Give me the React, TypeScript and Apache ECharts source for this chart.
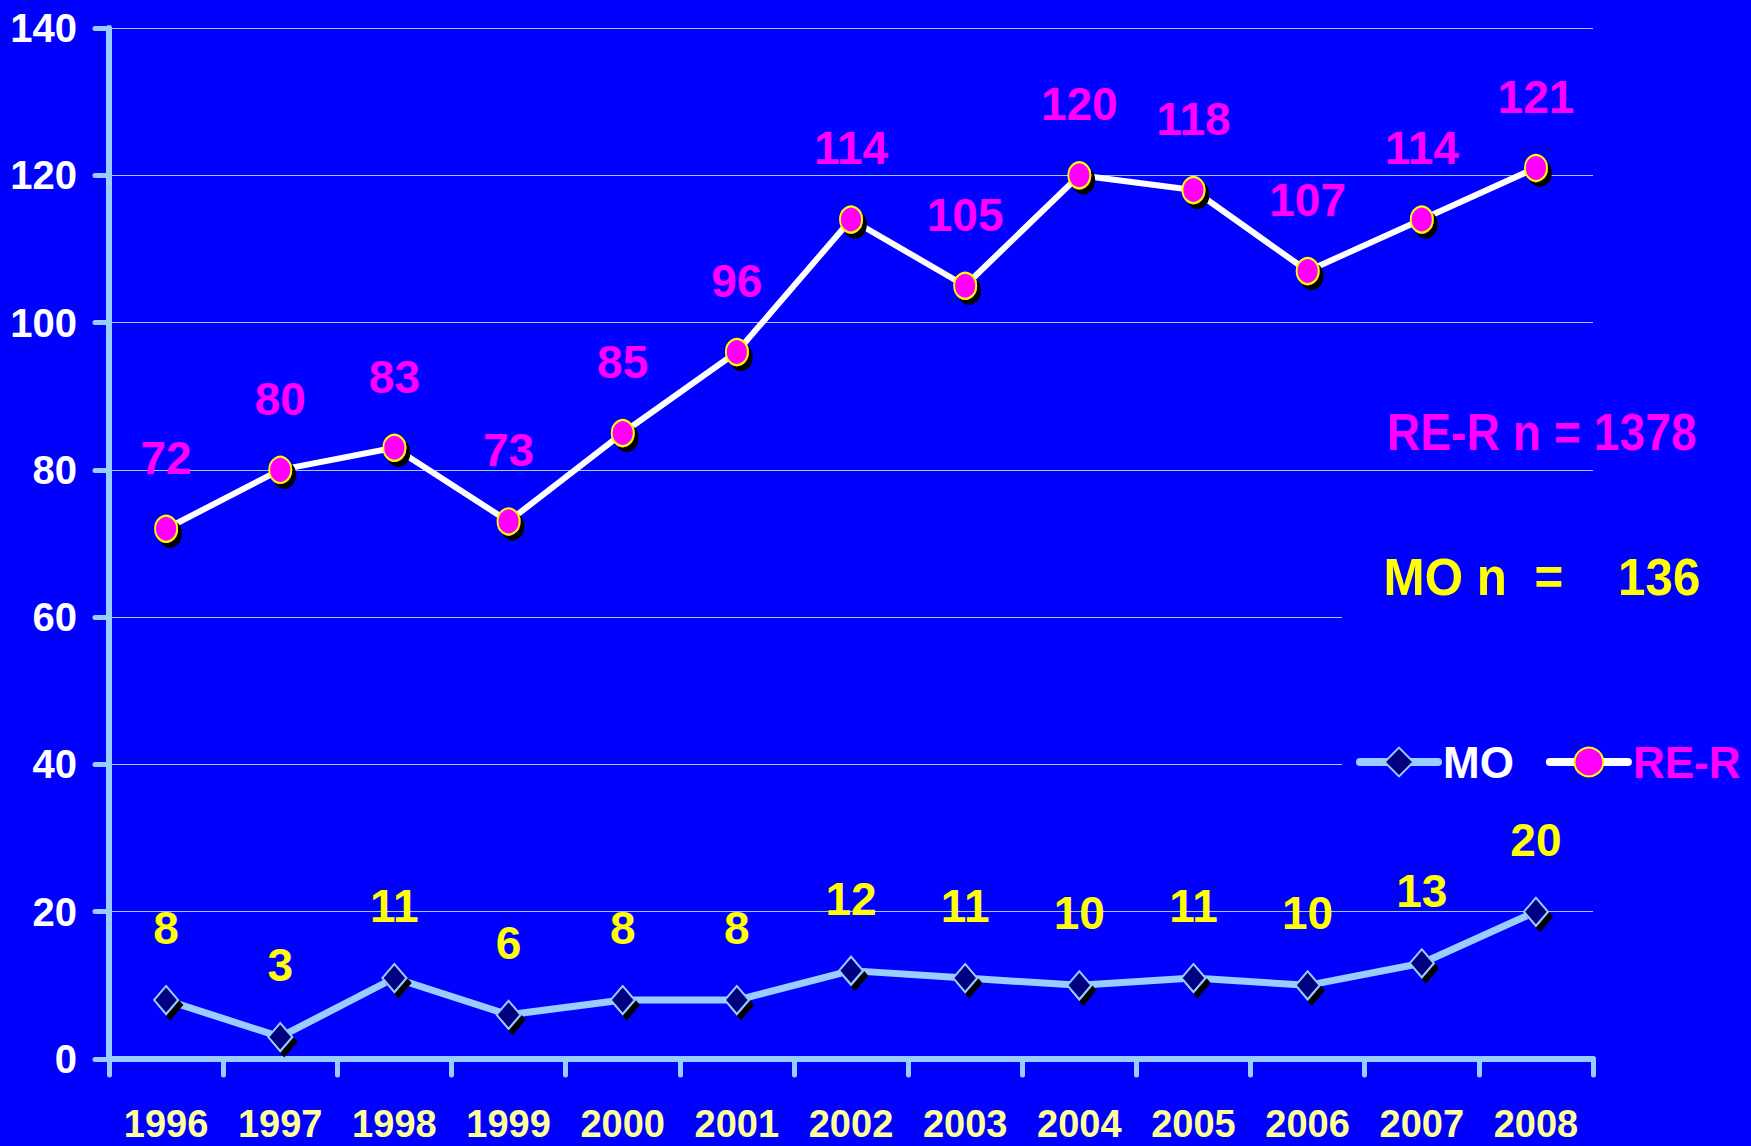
import React, { useEffect, useRef } from "react";
import * as echarts from "echarts";

const years = ["1996", "1997", "1998", "1999", "2000", "2001", "2002", "2003", "2004", "2005", "2006", "2007", "2008"];
const reR = [72, 80, 83, 73, 85, 96, 114, 105, 120, 118, 107, 114, 121];
const mo = [8, 3, 11, 6, 8, 8, 12, 11, 10, 11, 10, 13, 20];
const reRTotal = "RE-R n = 1378";
const moTotal = "MO n  =    136";

const FONT = "'Liberation Sans', Arial, sans-serif";
const BG = "#0000FF";
const AXIS = "#99CCFF";

export default function App() {
  const ref = useRef<HTMLDivElement>(null);
  useEffect(() => {
    document.body.style.margin = "0";
    document.body.style.background = BG;
    const chart = echarts.init(ref.current!, null, { renderer: "svg" });
    const noShadow = { shadowColor: "rgba(0,0,0,0)", shadowOffsetX: 0, shadowOffsetY: 0 };
    chart.setOption({
      animation: false,
      backgroundColor: BG,
      grid: { left: 109, right: 158, top: 28, bottom: 87 },
      legend: {
        left: 1356,
        top: 740,
        width: 395,
        padding: 0,
        itemWidth: 78,
        itemHeight: 36,
        itemGap: 32,
        textStyle: { fontSize: 44, fontWeight: "bold", fontFamily: FONT },
        data: [
          { name: "MO", textStyle: { color: "#FFFFFF" }, lineStyle: { width: 8, cap: "round", color: AXIS }, itemStyle: noShadow },
          { name: "RE-R", textStyle: { color: "#FF00FF" }, lineStyle: { width: 8, cap: "round", color: "#FFFFFF" }, itemStyle: noShadow },
        ],
      },
      xAxis: {
        type: "category",
        data: years,
        boundaryGap: true,
        axisLine: { lineStyle: { color: AXIS, width: 6, cap: "round" } },
        axisTick: { show: true, interval: 0, length: 16, inside: false, lineStyle: { color: AXIS, width: 5, cap: "round" } },
        axisLabel: { interval: 0, color: "#FFFF99", fontSize: 38, fontWeight: "bold", fontFamily: FONT, margin: 46 },
      },
      yAxis: {
        type: "value",
        min: 0,
        max: 140,
        interval: 20,
        axisLine: { show: true, lineStyle: { color: AXIS, width: 6, cap: "round" } },
        axisTick: { show: true, length: 14, lineStyle: { color: AXIS, width: 5, cap: "round" } },
        axisLabel: { color: "#FFFFFF", fontSize: 40, fontWeight: "bold", fontFamily: FONT, margin: 32 },
        splitLine: { show: true, lineStyle: { color: AXIS, width: 1 } },
      },
      graphic: [
        { type: "rect", z: 1, shape: { x: 1342, y: 490, width: 409, height: 330 }, style: { fill: BG } },
        {
          type: "text", z: 10, x: 1542, y: 432, scaleX: 0.89,
          style: { text: reRTotal, fill: "#FF00FF", fontSize: 52, fontWeight: "bold", fontFamily: FONT, align: "center", verticalAlign: "middle" },
        },
        {
          type: "text", z: 10, x: 1542, y: 577, scaleX: 0.95,
          style: { text: moTotal, fill: "#FFFF00", fontSize: 52, fontWeight: "bold", fontFamily: FONT, align: "center", verticalAlign: "middle" },
        },
      ],
      series: [
        {
          name: "MO",
          type: "line",
          data: mo,
          z: 3,
          symbol: "diamond",
          symbolSize: [24, 28],
          lineStyle: { color: AXIS, width: 7 },
          itemStyle: { color: "#000080", borderColor: AXIS, borderWidth: 2, shadowColor: "#000000", shadowBlur: 0, shadowOffsetX: 4, shadowOffsetY: 5 },
          label: { show: true, position: "top", distance: 34, color: "#FFFF00", fontSize: 46, fontWeight: "bold", fontFamily: FONT },
        },
        {
          name: "RE-R",
          type: "line",
          data: reR,
          z: 3,
          symbol: "circle",
          symbolSize: [22, 26],
          lineStyle: { color: "#FFFFFF", width: 6 },
          itemStyle: { color: "#FF00FF", borderColor: "#FFFF00", borderWidth: 2, shadowColor: "#000000", shadowBlur: 0, shadowOffsetX: 4, shadowOffsetY: 5 },
          label: { show: true, position: "top", distance: 34, color: "#FF00FF", fontSize: 46, fontWeight: "bold", fontFamily: FONT },
        },
      ],
    });
    return () => chart.dispose();
  }, []);
  return <div ref={ref} style={{ width: 1751, height: 1146 }} />;
}
